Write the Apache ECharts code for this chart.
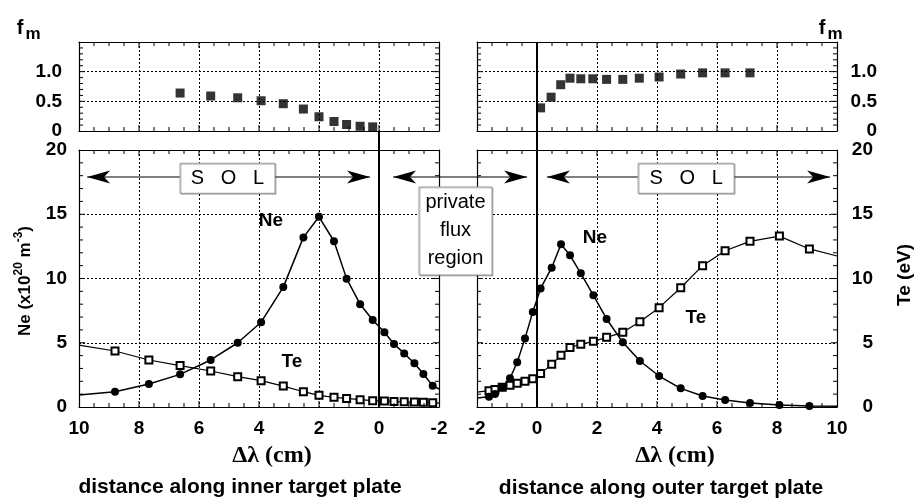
<!DOCTYPE html>
<html>
<head>
<meta charset="utf-8">
<script src="https://cdn.jsdelivr.net/npm/echarts@6/dist/echarts.min.js"></script>
<style>
  html, body { margin: 0; padding: 0; background: #fff; }
  #chart { width: 918px; height: 504px; }
</style>
</head>
<body>
<div id="chart"></div>
<script>
// inner target plate (left panels), x axis runs 10 -> -2
const innerX  = [10, 8.8, 7.67, 6.63, 5.61, 4.71, 3.93, 3.19, 2.52, 2.0, 1.5, 1.08, 0.63, 0.21, -0.18, -0.5, -0.84, -1.18, -1.48, -1.79, -2];
const innerNe = [0.93, 1.19, 1.79, 2.54, 3.66, 5.0, 6.6, 9.33, 13.2, 14.8, 12.9, 9.99, 8.0, 6.77, 5.81, 4.9, 4.17, 3.4, 2.57, 1.66, 1.4];
const innerTe = [4.82, 4.36, 3.66, 3.22, 2.8, 2.36, 2.05, 1.63, 1.19, 0.91, 0.75, 0.67, 0.57, 0.49, 0.47, 0.42, 0.4, 0.38, 0.36, 0.33, 0.3];
const innerFmX = [6.63, 5.61, 4.71, 3.93, 3.19, 2.52, 2.0, 1.5, 1.08, 0.63, 0.21];
const innerFm  = [0.64, 0.59, 0.56, 0.51, 0.46, 0.37, 0.24, 0.16, 0.11, 0.08, 0.07];

// outer target plate (right panels), x axis runs -2 -> 10
const outerX  = [-2, -1.6, -1.4, -1.16, -0.9, -0.66, -0.4, -0.14, 0.12, 0.49, 0.8, 1.1, 1.46, 1.88, 2.32, 2.86, 3.43, 4.07, 4.79, 5.52, 6.27, 7.1, 8.08, 9.08, 10];
const outerNe = [0.7, 0.8, 1.01, 1.53, 2.23, 3.48, 5.34, 7.4, 9.23, 10.84, 12.66, 11.8, 10.4, 8.69, 6.85, 5.03, 3.58, 2.41, 1.45, 0.86, 0.54, 0.31, 0.16, 0.08, 0.06];
const outerTe = [1.16, 1.27, 1.36, 1.53, 1.69, 1.84, 2.0, 2.2, 2.6, 3.32, 4.02, 4.64, 4.88, 5.11, 5.42, 5.81, 6.64, 7.73, 9.28, 11.0, 12.16, 12.89, 13.3, 12.3, 11.75];
const outerFmX = [0.12, 0.47, 0.79, 1.1, 1.46, 1.86, 2.32, 2.86, 3.41, 4.07, 4.79, 5.52, 6.27, 7.1];
const outerFm  = [0.39, 0.57, 0.78, 0.89, 0.88, 0.88, 0.87, 0.87, 0.89, 0.91, 0.96, 0.98, 0.98, 0.98];

const FONT = '"Liberation Sans", Arial, Helvetica, sans-serif';
const SERIF = '"Liberation Serif", "Times New Roman", serif';

const el = document.getElementById('chart');

function zip(xs, ys) { return xs.map((x, i) => [x, ys[i]]); }
// no marker on the first/last point (line runs to the frame edge)
function edgeSym(name, n) {
  return (v, p) => (p.dataIndex === 0 || p.dataIndex === n - 1) ? 'none' : name;
}

function xAx(g, inverse, pos, labels) {
  return {
    type: 'value', gridIndex: g, min: -2, max: 10, interval: 2, inverse: inverse, position: pos,
    axisLine: { show: true, onZero: false, lineStyle: { color: '#000', width: 1.2 } },
    axisTick: { show: false },
    axisLabel: { show: labels, color: '#000', fontFamily: FONT, fontWeight: 'bold', fontSize: 19, margin: 12 },
    splitLine: { show: pos === 'bottom', lineStyle: { color: '#000', width: 1, type: [2, 2] } }
  };
}

function yAx(g, pos, max, interval, labels, margin, align, fmt) {
  const lab = { show: labels, color: '#000', fontFamily: FONT, fontWeight: 'bold', fontSize: 19, margin: margin };
  if (align) lab.align = align;
  if (fmt) lab.formatter = fmt;
  return {
    type: 'value', gridIndex: g, min: 0, max: max, interval: interval, position: pos,
    axisLine: { show: true, onZero: false, lineStyle: { color: '#000', width: 1.2 } },
    axisTick: { show: false },
    axisLabel: lab,
    splitLine: { show: pos === 'left', lineStyle: { color: '#000', width: 1, type: [2, 2] } }
  };
}

const fmFmt = v => v === 1.5 ? '' : (v === 0 ? '0' : v.toFixed(1));

// panels 0..3 carry the data (bottom / left axes), 4..7 are the same boxes with the top / right frame axes
const panels = [
  { left: 79, top: 150, width: 360, height: 257 },  // inner Ne/Te
  { left: 477, top: 150, width: 360, height: 257 }, // outer Ne/Te
  { left: 79, top: 42, width: 360, height: 89 },    // inner fm
  { left: 477, top: 42, width: 360, height: 89 }    // outer fm
];
// y range and tick steps of each panel: [max, major, minor]
const yScale = [[20, 5, 1], [20, 5, 1], [1.5, 0.5, 0.1], [1.5, 0.5, 0.1]];

const option = {
  animation: false,
  backgroundColor: '#fff',
  grid: panels.concat(panels.map(p => Object.assign({}, p))),
  xAxis: [
    xAx(0, true, 'bottom', true), xAx(1, false, 'bottom', true),
    xAx(2, true, 'bottom', false), xAx(3, false, 'bottom', false),
    xAx(4, true, 'top', false), xAx(5, false, 'top', false),
    xAx(6, true, 'top', false), xAx(7, false, 'top', false)
  ],
  yAxis: [
    yAx(0, 'left', 20, 5, true, 12), yAx(1, 'left', 20, 5, false, 8),
    yAx(2, 'left', 1.5, 0.5, true, 17, null, fmFmt), yAx(3, 'left', 1.5, 0.5, false, 8),
    yAx(4, 'right', 20, 5, false, 8), yAx(5, 'right', 20, 5, true, 36, 'right'),
    yAx(6, 'right', 1.5, 0.5, false, 8), yAx(7, 'right', 1.5, 0.5, true, 40, 'right', fmFmt)
  ],
  series: [
    { name: 'Ne inner', type: 'line', xAxisIndex: 0, yAxisIndex: 0, data: zip(innerX, innerNe),
      symbol: edgeSym('circle', innerX.length), symbolSize: 8, showAllSymbol: true,
      lineStyle: { color: '#000', width: 1.5 }, itemStyle: { color: '#000' }, silent: true, z: 4 },
    { name: 'Te inner', type: 'line', xAxisIndex: 0, yAxisIndex: 0, data: zip(innerX, innerTe),
      symbol: edgeSym('emptyRect', innerX.length), symbolSize: 7, showAllSymbol: true,
      lineStyle: { color: '#000', width: 1.2 }, itemStyle: { color: '#000', borderWidth: 1 }, silent: true, z: 3 },
    { name: 'Ne outer', type: 'line', xAxisIndex: 1, yAxisIndex: 1, data: zip(outerX, outerNe),
      symbol: edgeSym('circle', outerX.length), symbolSize: 8, showAllSymbol: true,
      lineStyle: { color: '#000', width: 1.5 }, itemStyle: { color: '#000' }, silent: true, z: 4 },
    { name: 'Te outer', type: 'line', xAxisIndex: 1, yAxisIndex: 1, data: zip(outerX, outerTe),
      symbol: edgeSym('emptyRect', outerX.length), symbolSize: 7, showAllSymbol: true,
      lineStyle: { color: '#000', width: 1.2 }, itemStyle: { color: '#000', borderWidth: 1 }, silent: true, z: 3 },
    { name: 'fm inner', type: 'scatter', xAxisIndex: 2, yAxisIndex: 2, data: zip(innerFmX, innerFm),
      symbol: 'rect', symbolSize: 9, itemStyle: { color: '#000' }, silent: true },
    { name: 'fm outer', type: 'scatter', xAxisIndex: 3, yAxisIndex: 3, data: zip(outerFmX, outerFm),
      symbol: 'rect', symbolSize: 9, itemStyle: { color: '#000' }, silent: true }
  ]
};

// first pass only to get the axis scales for the annotations
let chart = echarts.init(el);
chart.setOption(option);
const P = (g, x, y) => chart.convertToPixel({ xAxisIndex: g, yAxisIndex: g }, [x, y]);

function head(tip, dir) {
  // concave filled arrowhead, dir = -1 points left, +1 points right
  const L = 23, W = 6.5, N = 6;
  const [x, y] = tip;
  return { type: 'polygon', z: 100, silent: true,
    shape: { points: [[x, y], [x - dir * L, y - W], [x - dir * (L - N), y], [x - dir * L, y + W]] },
    style: { fill: '#000' } };
}
function seg(a, b, w) {
  return { type: 'line', z: 100, silent: true, shape: { x1: a[0], y1: a[1], x2: b[0], y2: b[1] },
           style: { stroke: '#000', lineWidth: w || 1.2 } };
}
function box(c, w, h) {
  return { type: 'rect', z: 101, silent: true,
    shape: { x: c[0] - w / 2, y: c[1] - h / 2, width: w, height: h },
    style: { fill: '#fff', stroke: '#999', lineWidth: 1, shadowColor: 'rgba(0,0,0,0.25)', shadowOffsetX: 1, shadowOffsetY: 1 } };
}
function txt(p, text, font, extra) {
  return Object.assign({ type: 'text', z: 102, silent: true, x: p[0], y: p[1],
    style: { text: text, font: font, fill: '#000', textAlign: 'center', textVerticalAlign: 'middle' } }, extra || {});
}
function arrow(a, b) {
  return [seg(a, b), head(a, -1), head(b, 1)];
}

const g = [];

// inward ticks on all four sides of each frame, positioned by the axis scales
for (let p = 0; p < 4; p++) {
  const [ymax, ymaj, ymin] = yScale[p];
  const xa = P(p, -2, 0)[0], xb = P(p, 10, 0)[0];
  const xl = Math.min(xa, xb), xr = Math.max(xa, xb);
  for (let i = 1; i < 24; i++) {
    const v = -2 + i * 0.5;
    const len = i % 4 === 0 ? 6 : 4;
    const b = P(p, v, 0), t = P(p, v, ymax);
    g.push(seg(b, [b[0], b[1] - len], 1), seg(t, [t[0], t[1] + len], 1));
  }
  const n = Math.round(ymax / ymin), per = Math.round(ymaj / ymin);
  for (let i = 1; i < n; i++) {
    const yy = P(p, -2, i * ymin)[1];
    const len = i % per === 0 ? 6 : 4;
    g.push(seg([xl, yy], [xl + len, yy], 1), seg([xr, yy], [xr - len, yy], 1));
  }
}

// x = 0 separatrix lines
const l0 = P(0, 0, 0), l0top = P(2, 0, 0);
const r0 = P(1, 0, 0), r0top = P(3, 0, 1.5);
g.push(seg([l0[0], l0[1]], [l0top[0], l0top[1]], 2));
g.push(seg([r0[0], r0[1]], [r0top[0], r0top[1]], 2));

// SOL / private flux arrows
g.push(...arrow(P(0, 9.73, 17.9), P(0, 0.3, 17.9)));
g.push(...arrow(P(0, -0.47, 17.9), P(1, -0.33, 17.9)));
g.push(...arrow(P(1, 0.33, 17.9), P(1, 9.77, 17.9)));

const solL = P(0, 5.05, 17.8), solR = P(1, 4.97, 17.8), pf = P(0, -2.55, 13.7);
g.push(box(solL, 95, 30), txt(solL, 'S   O   L', '20px ' + FONT));
g.push(box(solR, 96, 30), txt(solR, 'S   O   L', '20px ' + FONT));
const pfText = txt(pf, 'private\nflux\nregion', '20px ' + FONT);
pfText.style.lineHeight = 28;
g.push(box(pf, 73, 88), pfText);

// curve labels
const B19 = 'bold 19px ' + FONT;
g.push(txt(P(0, 3.6, 14.47), 'Ne', B19), txt(P(0, 2.9, 3.5), 'Te', B19));
g.push(txt(P(1, 1.93, 13.15), 'Ne', B19), txt(P(1, 5.3, 6.93), 'Te', B19));

// fm labels
g.push(txt([20, 28], 'f', 'bold 20px ' + FONT), txt([33, 34], 'm', 'bold 17px ' + FONT));
g.push(txt([822, 28], 'f', 'bold 20px ' + FONT), txt([835, 34], 'm', 'bold 17px ' + FONT));

// axis titles
g.push({ type: 'text', z: 102, silent: true, x: 23, y: 281, rotation: Math.PI / 2,
  style: { text: '{a|Ne (x10}{s|20}{a| m}{s|-3}{a|)}', fill: '#000', textAlign: 'center', textVerticalAlign: 'middle',
    rich: { a: { fontFamily: FONT, fontWeight: 'bold', fontSize: 17, verticalAlign: 'bottom', lineHeight: 21 },
            s: { fontFamily: FONT, fontWeight: 'bold', fontSize: 12, verticalAlign: 'top', lineHeight: 21 } } } });
g.push(Object.assign(txt([905, 275], 'Te (eV)', 'bold 19px ' + FONT), { rotation: Math.PI / 2 }));

g.push(txt([272, 456], 'Δλ (cm)', 'bold 24px ' + SERIF), txt([675, 456], 'Δλ (cm)', 'bold 24px ' + SERIF));
g.push(txt([240, 487], 'distance along inner target plate', 'bold 21px ' + FONT));
g.push(txt([661, 488], 'distance along outer target plate', 'bold 21px ' + FONT));

// render once, with the annotations included
chart.dispose();
chart = echarts.init(el);
chart.setOption(Object.assign({}, option, { graphic: { elements: g } }));
</script>
</body>
</html>
